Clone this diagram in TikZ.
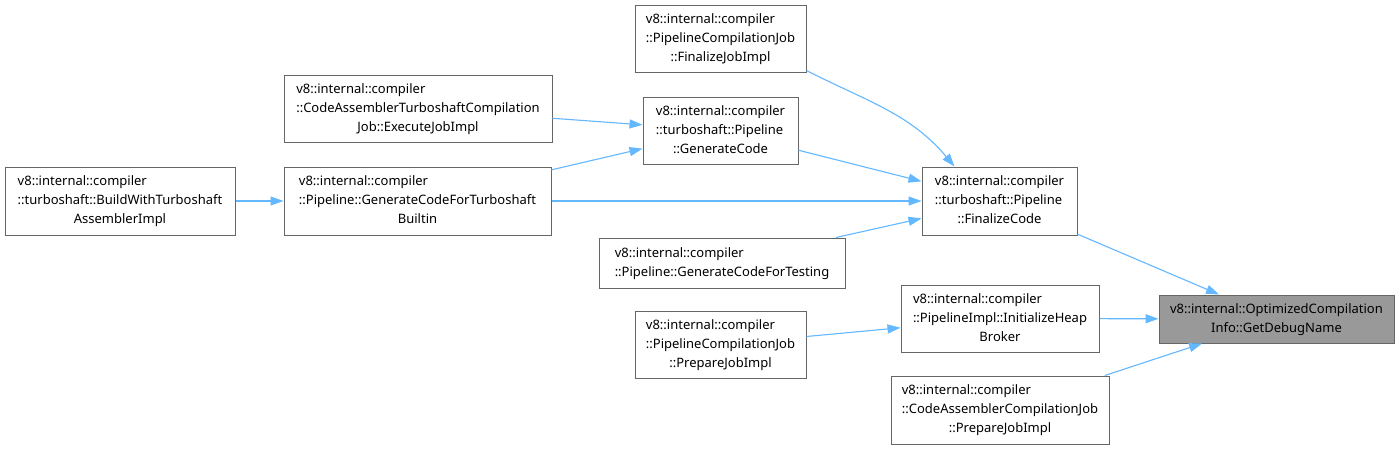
\documentclass[tikz,border=0pt]{standalone}
\usepackage{fontspec}
\setmainfont{Noto Sans}
\usepackage{xcolor}
\usepackage{tikz}
\usetikzlibrary{arrows.meta}
\definecolor{DGEdge}{HTML}{63B8FF}
\definecolor{DGBorder}{HTML}{666666}
\definecolor{DGFill}{HTML}{999999}
\newcommand{\dglabel}[2]{\begin{tabular}{@{}l@{}}#1\\\multicolumn{1}{@{}c@{}}{#2}\end{tabular}}

\begin{document}
\begin{tikzpicture}[x=1pt,y=-1pt,
  dgnode/.style={draw=DGBorder,line width=1pt,fill=white,inner sep=0pt,
    font=\fontsize{13}{19}\selectfont},
  dgedge/.style={draw=DGEdge,line width=1.1pt,-{Triangle[length=13pt,width=9pt]}}]
\path[use as bounding box] (0,0) rectangle (1400,450);
\fill[white] (0,0) rectangle (1400,450);
% callers, left to right
\node[dgnode,minimum width=171,minimum height=67] (fjob) at (720.5,38.5)
  {\dglabel{v8::internal::compiler\\::PipelineCompilationJob}{::FinalizeJobImpl}};
\node[dgnode,minimum width=268,minimum height=67] (execjob) at (418,108.5)
  {\dglabel{v8::internal::compiler\\::CodeAssemblerTurboshaftCompilation}{Job::ExecuteJobImpl}};
\node[dgnode,minimum width=155,minimum height=67] (gencode) at (720.5,130.5)
  {\dglabel{v8::internal::compiler\\::turboshaft::Pipeline}{::GenerateCode}};
\node[dgnode,minimum width=230,minimum height=68] (buildwith) at (120,201)
  {\dglabel{v8::internal::compiler\\::turboshaft::BuildWithTurboshaft}{AssemblerImpl}};
\node[dgnode,minimum width=267,minimum height=68] (genbuiltin) at (417.5,201)
  {\dglabel{v8::internal::compiler\\::Pipeline::GenerateCodeForTurboshaft}{Builtin}};
\node[dgnode,minimum width=155,minimum height=68] (fincode) at (999.5,201)
  {\dglabel{v8::internal::compiler\\::turboshaft::Pipeline}{::FinalizeCode}};
\node[dgnode,minimum width=246,minimum height=50] (gentest) at (722,263)
  {\dglabel{v8::internal::compiler}{::Pipeline::GenerateCodeForTesting}};
\node[dgnode,minimum width=198,minimum height=67] (heapbroker) at (1000,318.5)
  {\dglabel{v8::internal::compiler\\::PipelineImpl::InitializeHeap}{Broker}};
\node[dgnode,minimum width=171,minimum height=67] (pjob) at (720.5,344.5)
  {\dglabel{v8::internal::compiler\\::PipelineCompilationJob}{::PrepareJobImpl}};
\node[dgnode,minimum width=218,minimum height=68] (cajob) at (1000,410)
  {\dglabel{v8::internal::compiler\\::CodeAssemblerCompilationJob}{::PrepareJobImpl}};
% the function itself
\node[dgnode,fill=DGFill,minimum width=235,minimum height=48] (getdebug) at (1276.5,319)
  {\dglabel{v8::internal::OptimizedCompilation}{Info::GetDebugName}};
% calls
\draw[dgedge] (fincode) -- (getdebug);
\draw[dgedge] (heapbroker) -- (getdebug);
\draw[dgedge] (cajob) -- (getdebug);
\draw[dgedge] ([yshift=2pt]fjob.south east) to[out=-27,in=130] ([xshift=33pt]fincode.north west);
\draw[dgedge] (gencode) -- (fincode);
\draw[dgedge] (genbuiltin) -- (fincode);
\draw[dgedge] (gentest) -- (fincode);
\draw[dgedge] (execjob) -- (gencode);
\draw[dgedge] (genbuiltin) -- (gencode);
\draw[dgedge] (buildwith) -- (genbuiltin);
\draw[dgedge] (pjob) -- (heapbroker);
\end{tikzpicture}
\end{document}
